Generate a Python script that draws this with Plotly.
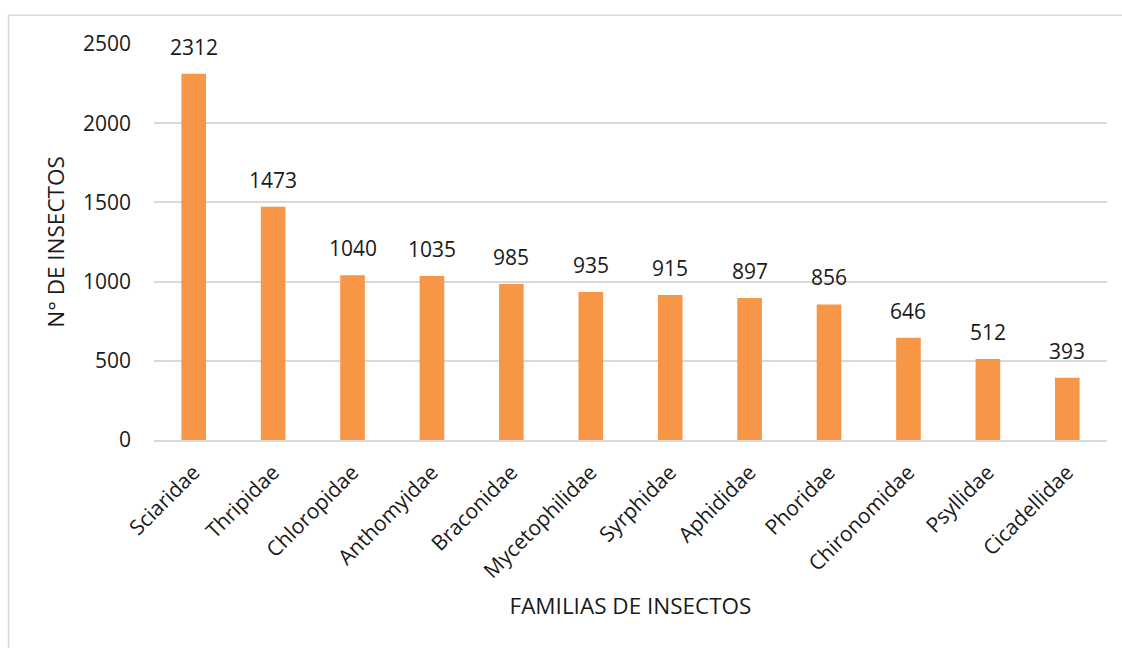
import plotly.graph_objects as go

# Insect counts per family
familias = ["Sciaridae", "Thripidae", "Chloropidae", "Anthomyidae", "Braconidae",
            "Mycetophilidae", "Syrphidae", "Aphididae", "Phoridae", "Chironomidae",
            "Psyllidae", "Cicadellidae"]
insectos = [2312, 1473, 1040, 1035, 985, 935, 915, 897, 856, 646, 512, 393]
y_ticks = [0, 500, 1000, 1500, 2000, 2500]

FONT = "Open Sans"
TXT = "#1a1a1a"

fig = go.Figure(go.Bar(
    x=familias,
    y=insectos,
    marker=dict(color="#F79646", line=dict(width=0)),
    cliponaxis=False,
    width=0.31,
))

# value labels above each bar
for fam, val in zip(familias, insectos):
    fig.add_annotation(
        x=fam, y=val, text=str(val), showarrow=False,
        xanchor="center", yanchor="bottom", yshift=11,
        font=dict(family=FONT, size=21, color=TXT),
    )

fig.update_layout(
    width=1122, height=648,
    margin=dict(l=154, r=15, t=44, b=208),
    paper_bgcolor="white", plot_bgcolor="white",
    showlegend=False,
    font=dict(family=FONT, size=21, color=TXT),
    xaxis=dict(
        tickangle=-45,
        tickfont=dict(family=FONT, size=21, color=TXT),
        showgrid=False,
        showline=True, linecolor="#d9d9d9", linewidth=1.5,
        ticks="", ticklabelstandoff=10,
        title=dict(text="FAMILIAS DE INSECTOS", font=dict(family=FONT, size=22.5, color=TXT), standoff=16),
    ),
    yaxis=dict(
        range=[0, 2500],
        tickvals=y_ticks,
        tickfont=dict(family=FONT, size=21, color=TXT),
        showgrid=True, gridcolor="#d9d9d9", gridwidth=1.5,
        zeroline=False, showline=False,
        ticks="", ticklabelstandoff=22,
        title=dict(text="N° DE INSECTOS", font=dict(family=FONT, size=22.5, color=TXT), standoff=12),
    ),
    shapes=[
        # chart frame: top and left edges
        dict(type="path", xref="paper", yref="paper",
             path="M -0.1526 -0.6 L -0.1526 1.0727 L 1.12 1.0727",
             line=dict(color="#d9d9d9", width=1.5)),
    ],
)

fig.write_html("out.html")
